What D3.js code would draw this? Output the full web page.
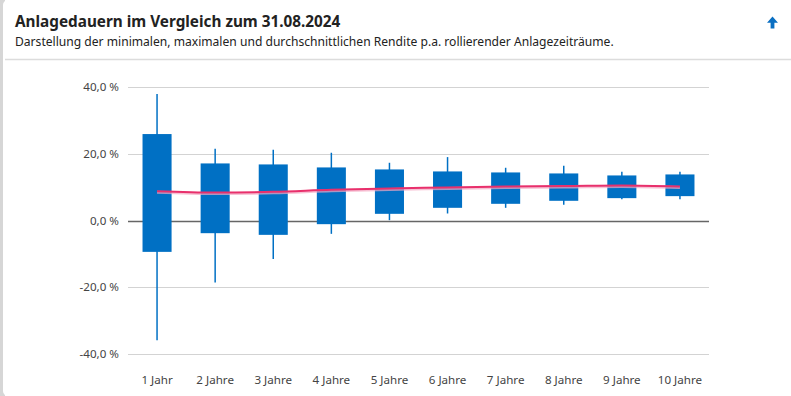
<!DOCTYPE html>
<html>
<head>
<meta charset="utf-8">
<script src="https://cdn.jsdelivr.net/npm/d3@7"></script>
<style>
  body { margin: 0; background: #fff; }
  svg { display: block; font-family: "Noto Sans", "Open Sans", sans-serif; }
</style>
</head>
<body>
<svg id="chart" width="791" height="396"></svg>
<script>
var svg = d3.select("#chart");
var width = +svg.attr("width");
var height = +svg.attr("height");

// values (rendite p.a. in %)
var categories = ["1 Jahr", "2 Jahre", "3 Jahre", "4 Jahre", "5 Jahre", "6 Jahre", "7 Jahre", "8 Jahre", "9 Jahre", "10 Jahre"];
var maxValues = [37.9, 21.5, 21.2, 20.3, 17.3, 19.0, 15.8, 16.4, 14.6, 14.6];
var upperValues = [25.9, 17.1, 16.8, 15.9, 15.3, 14.7, 14.4, 14.1, 13.5, 13.8];
var lowerValues = [-9.4, -3.8, -4.3, -1.1, 2.0, 3.8, 5.0, 5.9, 6.7, 7.3];
var minValues = [-35.9, -18.6, -11.5, -4.0, 0.1, 2.1, 3.8, 4.7, 6.4, 6.4];
var meanValues = [8.8, 8.4, 8.6, 9.2, 9.6, 9.9, 10.2, 10.3, 10.5, 10.2];
var yTicks = [-40, -20, 0, 20, 40];

var plotLeft = 128, plotRight = 709;
var plotTop = 87, plotBottom = 354;

// card frame
svg.append("rect").attr("x", 0).attr("y", 0).attr("width", 5).attr("height", height).attr("fill", "#d6d6d6");
svg.append("rect").attr("x", 3).attr("y", 0).attr("width", 12).attr("height", height)
  .attr("rx", 5).attr("fill", "#fff");
svg.append("rect").attr("x", 8).attr("y", 0).attr("width", width).attr("height", height).attr("fill", "#fff");
svg.append("line").attr("x1", 5).attr("x2", width).attr("y1", 59.5).attr("y2", 59.5)
  .attr("stroke", "#dcdcdc").attr("stroke-width", 1.5);

// header
svg.append("text").attr("x", 15).attr("y", 27)
  .attr("font-size", 15.3).attr("font-weight", "bold").attr("fill", "#222")
  .text("Anlagedauern im Vergleich zum 31.08.2024");
svg.append("text").attr("x", 15).attr("y", 46)
  .attr("font-size", 12.1).attr("fill", "#222")
  .text("Darstellung der minimalen, maximalen und durchschnittlichen Rendite p.a. rollierender Anlagezeiträume.");

// arrow icon
svg.append("path")
  .attr("d", "M772.5,16.5 L778,22.8 L774.4,22.8 L774.4,28.5 L770.6,28.5 L770.6,22.8 L767,22.8 Z")
  .attr("fill", "#0a6fc2");

var x = d3.scaleBand().domain(categories).range([plotLeft, plotRight]).paddingInner(0.5).paddingOuter(0.25);
var y = d3.scaleLinear().domain([-40, 40]).range([plotBottom, plotTop]);

// grid lines
svg.append("g").selectAll("line").data(yTicks).join("line")
  .attr("x1", plotLeft).attr("x2", plotRight)
  .attr("y1", d => Math.round(y(d)) + 0.5).attr("y2", d => Math.round(y(d)) + 0.5)
  .attr("stroke", d => d === 0 ? "#666" : "#d3d3d3")
  .attr("stroke-width", d => d === 0 ? 1.5 : 1);

// y labels
var leftAxis = d3.axisLeft(y).tickValues(yTicks).tickSize(0).tickPadding(0)
  .tickFormat(d => d3.format(".1f")(d).replace(".", ",").replace("−", "-") + " %");
var yAxisG = svg.append("g").attr("transform", "translate(119,0)").call(leftAxis);
yAxisG.select(".domain").remove();
yAxisG.selectAll("text").attr("font-size", 11.6).attr("fill", "#444").attr("font-family", "Noto Sans, sans-serif");

// x labels
var bottomAxis = d3.axisBottom(x).tickSize(0).tickPadding(0);
var xAxisG = svg.append("g").attr("transform", "translate(0,376)").call(bottomAxis);
xAxisG.select(".domain").remove();
xAxisG.selectAll("text").attr("font-size", 11.6).attr("fill", "#444").attr("font-family", "Noto Sans, sans-serif");

var idx = d3.range(categories.length);
var cx = i => x(categories[i]) + x.bandwidth() / 2;

// whiskers
svg.append("g").selectAll("line").data(idx).join("line")
  .attr("x1", cx).attr("x2", cx)
  .attr("y1", i => y(maxValues[i])).attr("y2", i => y(minValues[i]))
  .attr("stroke", "#0070c4").attr("stroke-width", 1.5);

// boxes
svg.append("g").selectAll("rect").data(idx).join("rect")
  .attr("x", i => x(categories[i]))
  .attr("width", x.bandwidth())
  .attr("y", i => y(upperValues[i]))
  .attr("height", i => y(lowerValues[i]) - y(upperValues[i]))
  .attr("fill", "#0070c4");

// mean line with soft glow
var line = d3.line().x(cx).y(i => y(meanValues[i])).curve(d3.curveMonotoneX);
svg.append("path").datum(idx).attr("d", line)
  .attr("transform", "translate(0,1)")
  .attr("fill", "none").attr("stroke", "#f3a6c2").attr("stroke-width", 3).attr("opacity", 0.7);
svg.append("path").datum(idx).attr("d", line)
  .attr("fill", "none").attr("stroke", "#e8306c").attr("stroke-width", 2);
</script>
</body>
</html>
